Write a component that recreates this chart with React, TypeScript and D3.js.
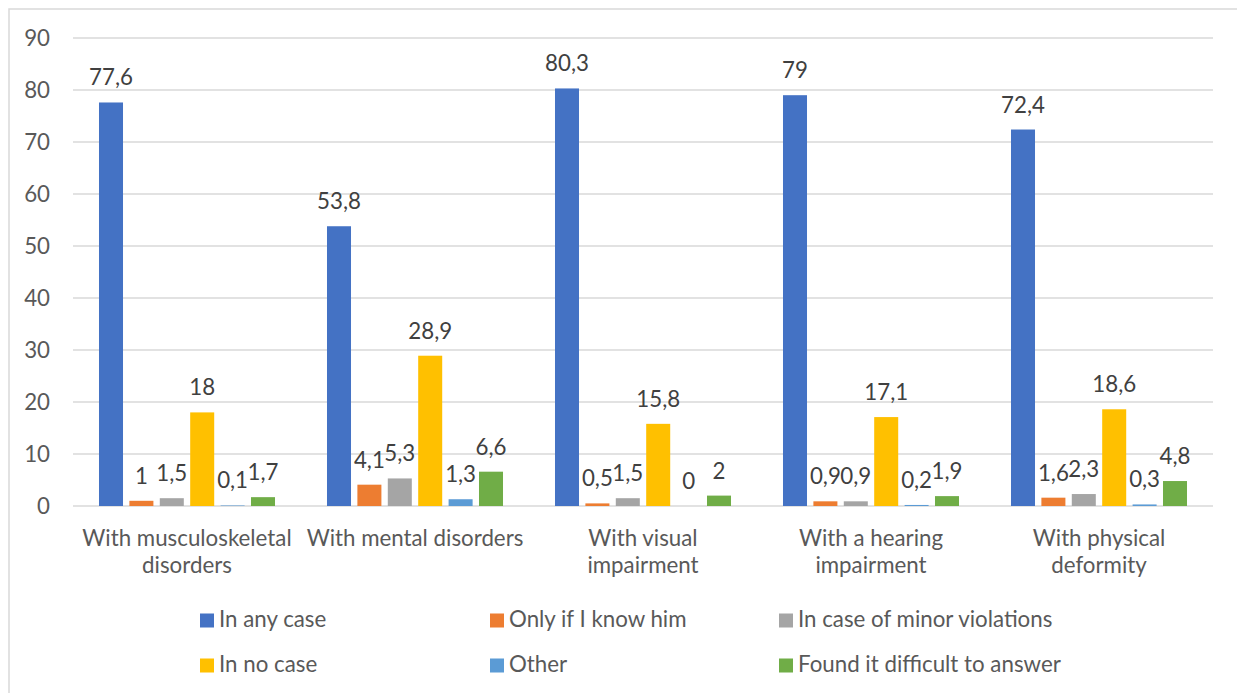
import React from "react";
import * as d3 from "d3";

const W = 1237;
const H = 693;

const categories: string[][] = [
  ["With musculoskeletal", "disorders"],
  ["With mental disorders"],
  ["With visual", "impairment"],
  ["With a hearing", "impairment"],
  ["With physical", "deformity"],
];

const seriesNames = [
  "In any case",
  "Only if I know him",
  "In case of minor violations",
  "In no case",
  "Other",
  "Found it difficult to answer",
];

const seriesColors = ["#4472C4", "#ED7D31", "#A5A5A5", "#FFC000", "#5B9BD5", "#70AD47"];

const inAnyCase = [77.6, 53.8, 80.3, 79, 72.4];
const onlyIfKnow = [1, 4.1, 0.5, 0.9, 1.6];
const minorViolations = [1.5, 5.3, 1.5, 0.9, 2.3];
const inNoCase = [18, 28.9, 15.8, 17.1, 18.6];
const other = [0.1, 1.3, 0, 0.2, 0.3];
const difficult = [1.7, 6.6, 2, 1.9, 4.8];

const seriesValues = [inAnyCase, onlyIfKnow, minorViolations, inNoCase, other, difficult];

const yTicks = [0, 10, 20, 30, 40, 50, 60, 70, 80, 90];

const FONT = "Lato, 'Open Sans', sans-serif";
const FS = 22.3;
const AXIS_COLOR = "#595959";
const LABEL_COLOR = "#404040";

export default function App() {
  const left = 73;
  const right = 1213;
  const top = 38;
  const bottom = 506;

  const y = d3.scaleLinear().domain([0, 90]).range([bottom, top]);
  const catIdx = categories.map((_, i) => String(i));
  const x0 = d3.scaleBand<string>().domain(catIdx).range([left, right]).padding(0);
  const x1 = d3
    .scaleBand<number>()
    .domain(d3.range(seriesNames.length))
    .range([0, x0.bandwidth()])
    .paddingInner(0.21)
    .paddingOuter(0.855);

  const fmt = (v: number) => String(v).replace(".", ",");

  const legendCols = [200, 490, 779];
  const legendRows = [627, 672];

  return (
    <svg
      width={W}
      height={H}
      style={{ position: "absolute", left: 0, top: 0, background: "#fff" }}
      fontFamily={FONT}
    >
      <rect x={9} y={9} width={W + 20} height={H + 20} fill="#fff" stroke="#d9d9d9" strokeWidth={1.5} />

      {/* gridlines and y-axis labels */}
      {yTicks.map((t) => (
        <g key={t}>
          <line x1={left} x2={right} y1={y(t)} y2={y(t)} stroke="#d9d9d9" strokeWidth={1.5} />
          <text x={50} y={y(t)} dy="0.36em" textAnchor="end" fontSize={FS} fill={AXIS_COLOR}>
            {t}
          </text>
        </g>
      ))}

      {/* bars with value labels */}
      {categories.map((_, ci) => (
        <g key={ci} transform={`translate(${x0(String(ci))},0)`}>
          {seriesValues.map((vals, si) => {
            const v = vals[ci];
            const bx = x1(si) as number;
            const bw = x1.bandwidth();
            return (
              <g key={si}>
                <rect x={bx} y={y(v)} width={bw} height={y(0) - y(v)} fill={seriesColors[si]} />
                <text
                  x={bx + bw / 2}
                  y={y(v) - 17}
                  textAnchor="middle"
                  fontSize={FS}
                  fill={LABEL_COLOR}
                >
                  {fmt(v)}
                </text>
              </g>
            );
          })}
        </g>
      ))}

      {/* category labels */}
      {categories.map((lines, ci) => {
        const cx = (x0(String(ci)) as number) + x0.bandwidth() / 2;
        return (
          <text key={ci} textAnchor="middle" fontSize={FS} fill={AXIS_COLOR}>
            {lines.map((ln, li) => (
              <tspan key={li} x={cx} y={545.5 + li * 27.5}>
                {ln}
              </tspan>
            ))}
          </text>
        );
      })}

      {/* legend */}
      {seriesNames.map((name, i) => {
        const col = i % 3;
        const row = Math.floor(i / 3);
        const lx = legendCols[col];
        const ly = legendRows[row];
        return (
          <g key={name}>
            <rect x={lx} y={ly - 13.5} width={14} height={14} fill={seriesColors[i]} />
            <text x={lx + 19} y={ly} fontSize={FS} fill={AXIS_COLOR}>
              {name}
            </text>
          </g>
        );
      })}
    </svg>
  );
}
